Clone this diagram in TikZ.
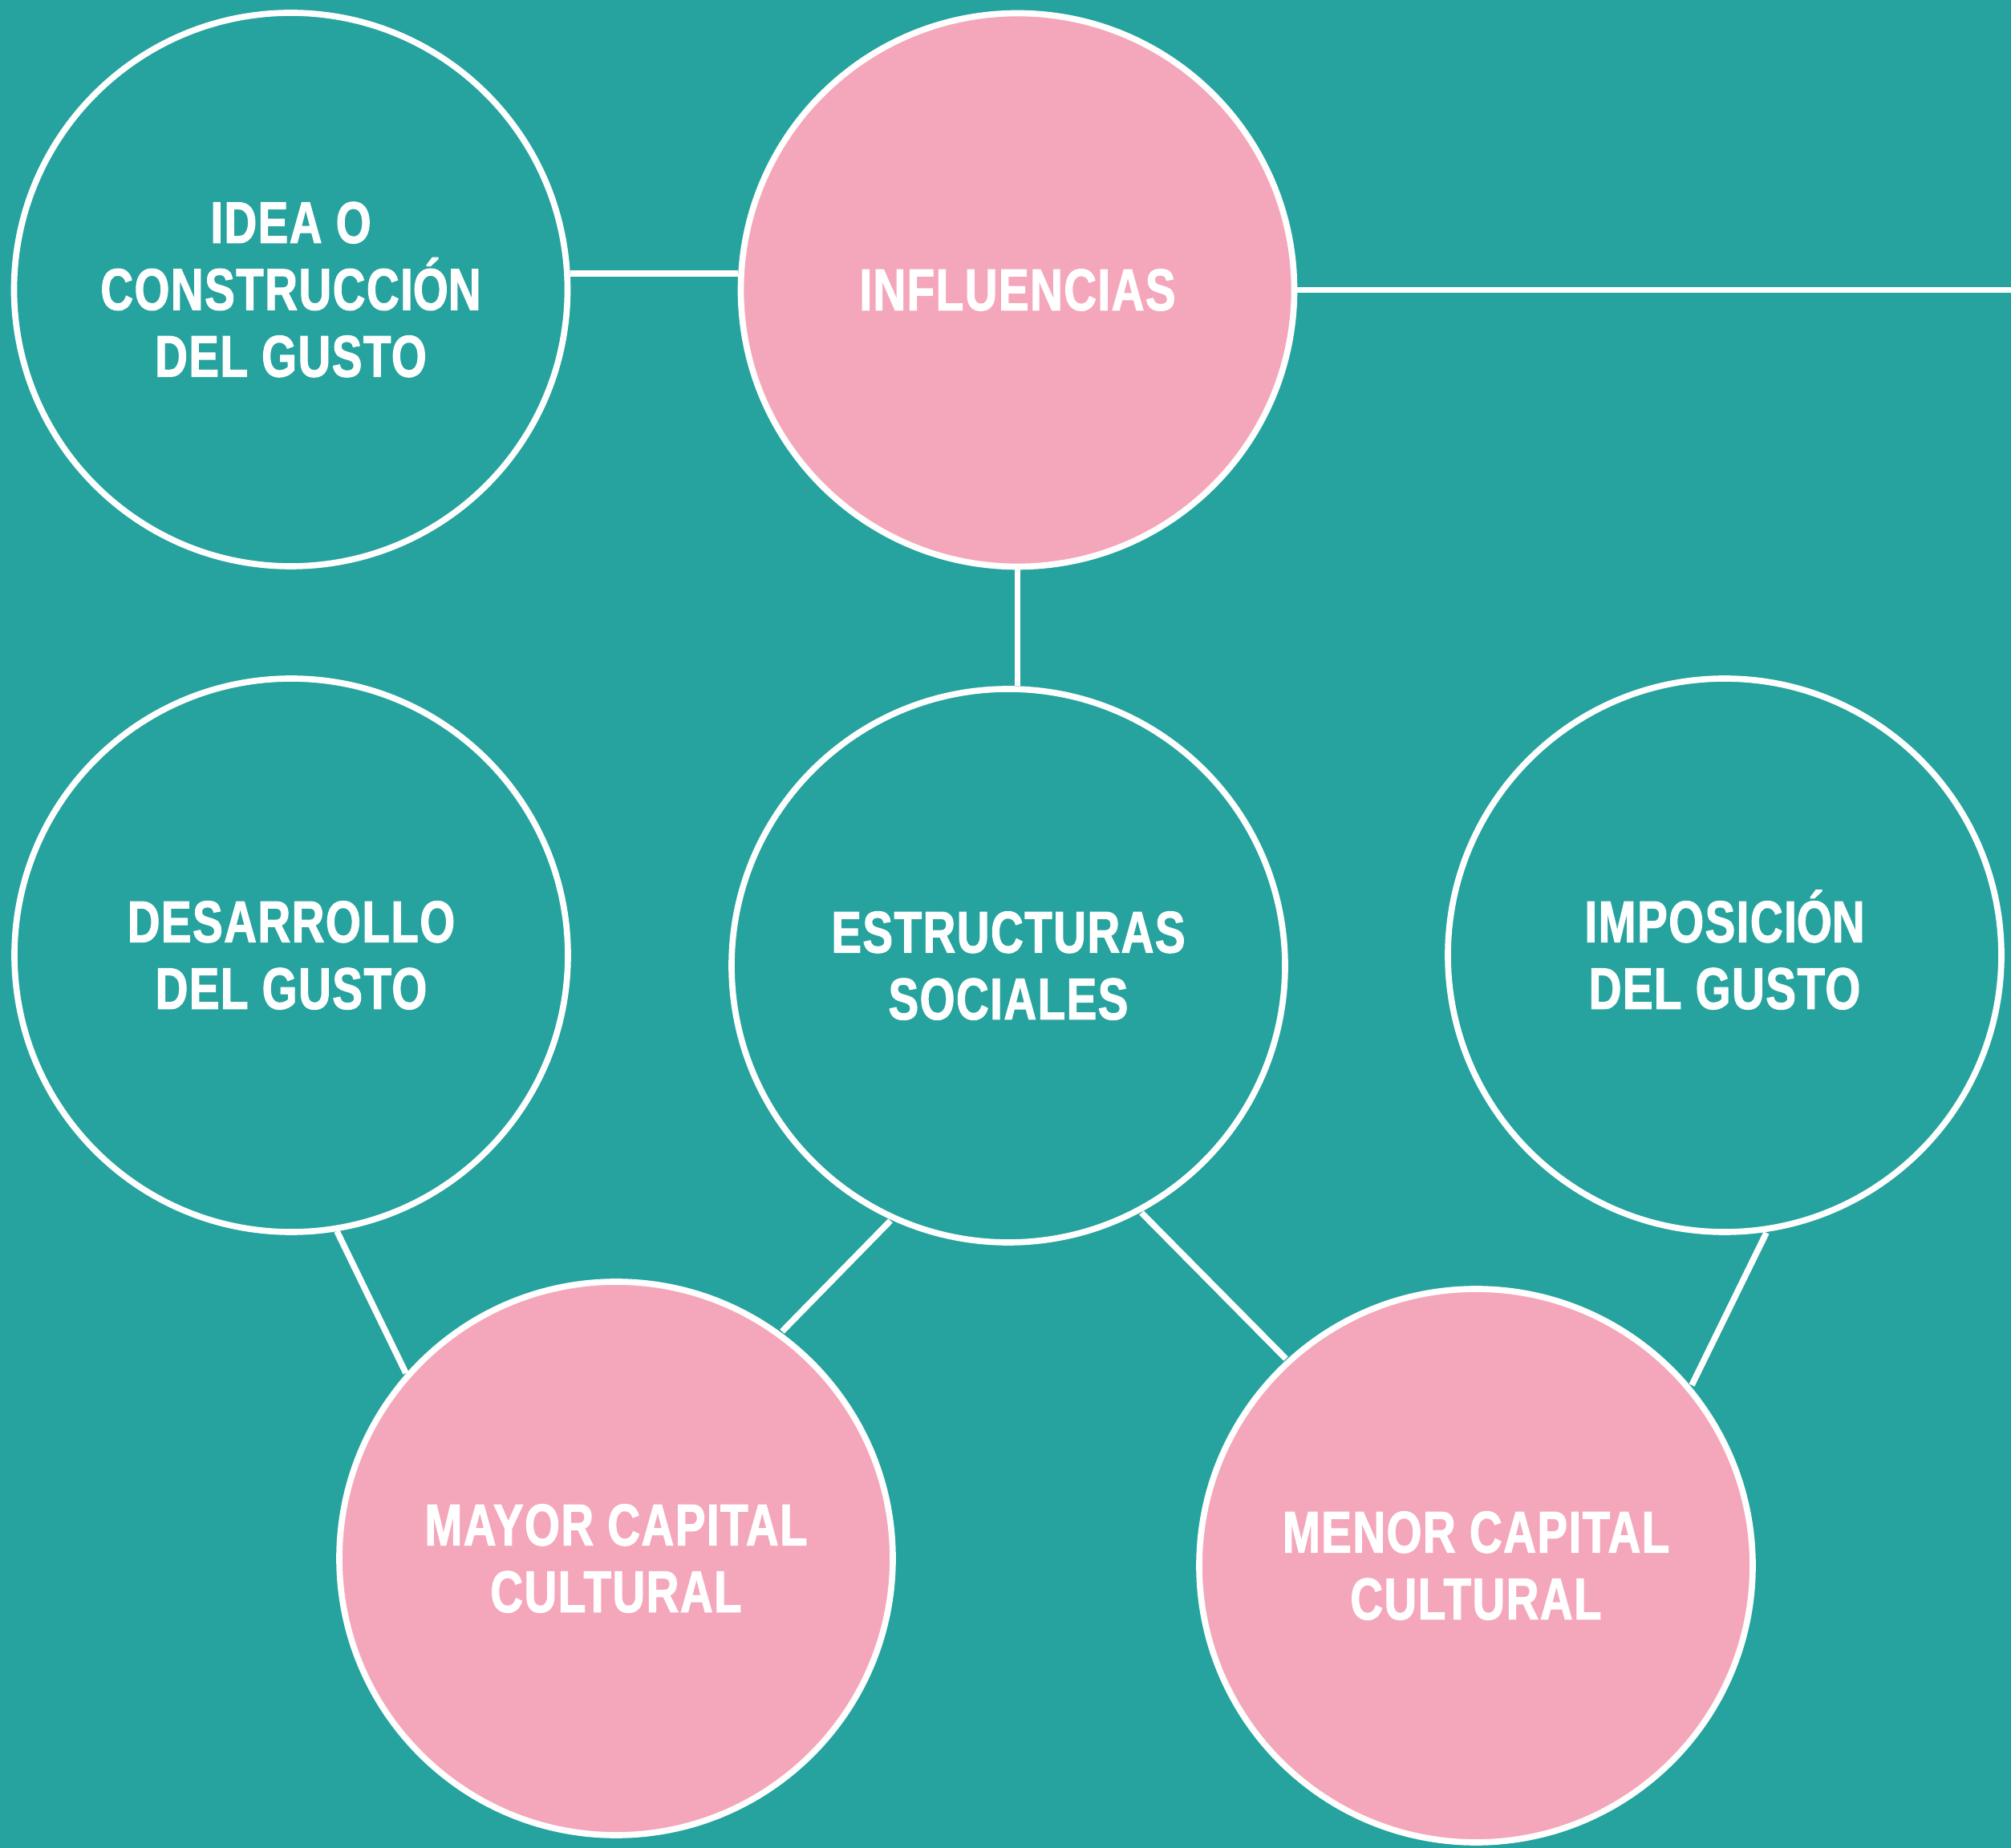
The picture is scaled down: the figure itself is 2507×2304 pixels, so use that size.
\documentclass[tikz,border=0pt]{standalone}
\usepackage{fontspec}
\setmainfont{Liberation Sans}[FakeStretch=0.77,FakeBold=1.5,LetterSpace=2]
\usetikzlibrary{calc}
\definecolor{teal}{HTML}{26A39E}
\definecolor{pinkc}{HTML}{F4A7BB}
\begin{document}
\begin{tikzpicture}[x=0.3pt,y=-0.3pt,
  bubble/.style={circle,draw=white,line width=2.3pt,minimum size=207pt,inner sep=0pt,
    align=center,text=white,font=\fontsize{22}{25}\selectfont\bfseries},
  tealb/.style={bubble,fill=teal},
  pinkb/.style={bubble,fill=pinkc},
  link/.style={draw=white,line width=2.3pt}]
\useasboundingbox (0,0) rectangle (2507,2304);
\fill[teal] (0,0) rectangle (2507,2304);
\coordinate (rightedge) at (2507,0);
\node[tealb] (idea) at (362.5,361) {IDEA O\\CONSTRUCCI\smash{Ó}N\\DEL GUSTO};
\node[pinkb] (infl) at (1268.5,361.5) {INFLUENCIAS};
\node[tealb] (desa) at (363,1191) {DESARROLLO\\DEL GUSTO};
\node[tealb] (estr) at (1257,1204) {ESTRUCTURAS\\SOCIALES};
\node[tealb] (impo) at (2150,1191) {IMPOSICI\smash{Ó}N\\DEL GUSTO};
\node[pinkb] (mayor) at (768,1943) {MAYOR CAPITAL\\CULTURAL};
\node[pinkb] (menor) at (1840,1952) {MENOR CAPITAL\\CULTURAL};
\draw[link] ($(idea)+(348.4,-20)$) -- ($(infl)+(-348.4,-20.5)$);
\draw[link] (infl.east) -- (infl.east -| rightedge);
\draw[link] (infl.south) -- (infl.south |- estr.north);
\draw[link] ($(desa)+(57,344)$) -- ($(mayor)+(-262,-231)$);
\draw[link] ($(estr)+(-147,318)$) -- ($(mayor)+(207,-283)$);
\draw[link] ($(estr)+(166,308)$) -- ($(menor)+(-237,-258)$);
\draw[link] ($(impo)+(52,346)$) -- ($(menor)+(269,-225)$);
\end{tikzpicture}
\end{document}
